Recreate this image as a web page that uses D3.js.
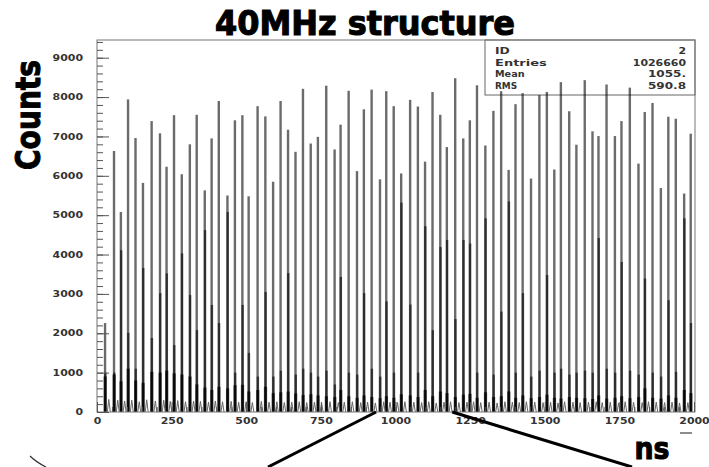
<!DOCTYPE html>
<html>
<head>
<meta charset="utf-8">
<script src="https://cdn.jsdelivr.net/npm/d3@7"></script>
<style>
  body { margin: 0; background: #fff; }
  svg { display: block; }
  .axis text { font-family: "DejaVu Sans", sans-serif; font-weight: bold; font-size: 8px; fill: #333; }
  .axis line { stroke: #555; }
  .stats text { font-family: "DejaVu Sans", sans-serif; font-weight: bold; font-size: 8.5px; fill: #333; }
  .big { font-family: "DejaVu Sans", sans-serif; font-weight: bold; fill: #000; stroke: #000; stroke-width: 1.1px; }
</style>
</head>
<body>
<svg id="chart"></svg>
<script>
// bunch arrival times (ns), read from the peaks
const bunchTime = [27, 57, 80, 104, 129, 154, 183, 211, 233, 258, 284, 311, 334, 361, 384, 408,
  437, 462, 487, 508, 538, 564, 590, 615, 640, 665, 690, 716, 740, 768, 796, 816, 843, 871,
  894, 920, 948, 969, 994, 1019, 1049, 1075, 1099, 1124, 1150, 1172, 1200, 1227, 1249, 1273,
  1301, 1328, 1354, 1379, 1402, 1426, 1454, 1482, 1507, 1532, 1554, 1582, 1606, 1634, 1660,
  1680, 1707, 1735, 1757, 1785, 1814, 1835, 1861, 1889, 1914, 1939, 1967, 1989];

// counts in the highest bin of each bunch
const peakCounts = [2260, 6630, 5080, 7940, 6960, 5820, 7390, 7080, 6230, 7540, 6040, 6800,
  7550, 5630, 6950, 7900, 5500, 7410, 7540, 5480, 7770, 7510, 5850, 7900, 7170, 6610, 8210,
  6820, 6990, 8290, 6670, 7300, 8160, 6120, 7690, 8190, 5910, 8150, 7770, 6060, 7930, 7760,
  6360, 8130, 7550, 6730, 8480, 6950, 7410, 8300, 6770, 7650, 8150, 6150, 7820, 8100, 5930,
  8050, 8130, 6160, 8380, 7640, 6790, 8430, 7130, 7010, 8320, 7010, 7390, 8240, 6310, 7620,
  7850, 5690, 7500, 7450, 5550, 7070];

// counts in the neighbouring bin
const secondCounts = [1000, 1000, 4110, 2010, 1100, 3660, 1880, 3020, 3520, 1700, 4030, 2970,
  2080, 4620, 2720, 2260, 5080, 1000, 2720, 1500, 900, 3050, 900, 1050, 3530, 950, 1100,
  1000, 900, 1050, 700, 3430, 1000, 950, 3020, 1100, 900, 2810, 1000, 5320, 2730, 1000,
  4720, 2080, 4190, 4370, 2360, 4370, 4280, 1000, 4920, 950, 2550, 5350, 1000, 3020, 900,
  1050, 3480, 1000, 1100, 950, 1000, 1050, 1000, 4420, 1100, 1000, 3810, 1050, 950, 3390,
  1000, 900, 2840, 1020, 4920, 2260];

// shoulder bins on either side of each bunch
const shoulderCounts = [900, 950, 780, 1100, 800, 740, 1020, 1000, 1050, 980, 950, 900,
  700, 620, 560, 640, 600, 680, 690, 520, 560, 640, 480, 500, 520, 470, 430, 450, 420, 400,
  380, 560, 400, 360, 420, 380, 350, 400, 360, 450, 420, 380, 560, 400, 520, 480, 380, 440,
  460, 360, 500, 380, 400, 520, 360, 420, 350, 380, 440, 360, 340, 380, 360, 350, 330, 420,
  340, 360, 400, 350, 380, 600, 360, 340, 420, 360, 560, 480];

// small bump half way to the next bunch
const gapBump = [320, 300, 280, 300, 260, 310, 280, 300, 270, 290, 260, 280, 270, 250, 280,
  260, 270, 250, 260, 240, 270, 250, 260, 240, 250, 260, 240, 250, 230, 260, 240, 250, 260,
  240, 250, 230, 260, 250, 240, 260, 250, 240, 260, 230, 250, 260, 240, 250, 260, 240, 250,
  230, 260, 250, 240, 260, 250, 240, 250, 230, 260, 250, 240, 250, 260, 240, 250, 230, 260,
  250, 240, 260, 250, 240, 250, 230, 240, 0];

const yTicks = [0, 1000, 2000, 3000, 4000, 5000, 6000, 7000, 8000, 9000];
const xTicks = [0, 250, 500, 750, 1000, 1250, 1500, 1750, 2000];
const statsRows = [['ID', '2'], ['Entries', '1026660'], ['Mean', '1055.'], ['RMS', '590.8']];
// where the two zoom lines leave the time axis (ns)
const zoomFrom = [935, 1190];

const width = 709, height = 467;
const frame = { left: 97, right: 695, top: 40, bottom: 412 };

const svg = d3.select('#chart')
  .attr('width', width)
  .attr('height', height);

const x = d3.scaleLinear().domain([0, 2000]).range([frame.left, 694]);
const y = d3.scaleLinear().domain([0, 9450]).range([frame.bottom, frame.top]);

// stats box (sits under the bars)
const stats = svg.append('g').attr('class', 'stats');
stats.append('rect')
  .attr('x', 485).attr('y', frame.top)
  .attr('width', frame.right - 485).attr('height', 55)
  .attr('fill', '#fff').attr('stroke', '#666');
statsRows.forEach((row, i) => {
  const ty = frame.top + 14 + i * 11.5;
  stats.append('text').attr('x', 495).attr('y', ty).text(row[0])
    .attr('textLength', row[0].length * 7.4).attr('lengthAdjust', 'spacingAndGlyphs');
  stats.append('text').attr('x', 686).attr('y', ty).attr('text-anchor', 'end').text(row[1])
    .attr('textLength', row[1].length * 7.6).attr('lengthAdjust', 'spacingAndGlyphs');
});

// one record per histogram bin that is drawn
const bins = [];
bunchTime.forEach((t, i) => {
  bins.push({ t: t - 1, v: shoulderCounts[i] });
  bins.push({ t: t + 2, v: shoulderCounts[i] });
  bins.push({ t: t + 1, v: secondCounts[i] });
  bins.push({ t: t, v: peakCounts[i] });
});

const bars = svg.append('g');
bars.selectAll('rect')
  .data(bins)
  .join('rect')
  .attr('x', (d) => x(d.t) - 1.2)
  .attr('width', 2.4)
  .attr('y', (d) => y(d.v))
  .attr('height', (d) => y(0) - y(d.v))
  .attr('fill', '#000')
  .attr('fill-opacity', 0.58);

// little tents between the bunches
bars.selectAll('path')
  .data(bunchTime.map((t, i) => ({ t: t + 12.5, v: gapBump[i] })).filter((d) => d.v > 0))
  .join('path')
  .attr('d', (d) => `M${x(d.t - 5)},${y(0)}L${x(d.t)},${y(d.v)}L${x(d.t + 5)},${y(0)}`)
  .attr('fill', 'none')
  .attr('stroke', '#666')
  .attr('stroke-width', 1);

// frame
svg.append('rect')
  .attr('x', frame.left).attr('y', frame.top)
  .attr('width', frame.right - frame.left).attr('height', frame.bottom - frame.top)
  .attr('fill', 'none').attr('stroke', '#777');

// y axis, ticks pointing into the frame
const yAxisG = svg.append('g').attr('class', 'axis')
  .attr('transform', `translate(${frame.left},0)`)
  .call(d3.axisLeft(y).tickValues(yTicks).tickFormat(d3.format('d'))
    .tickSizeInner(-12).tickSizeOuter(0).tickPadding(14));
svg.append('g').attr('class', 'axis')
  .attr('transform', `translate(${frame.left},0)`)
  .call(d3.axisLeft(y).tickValues(d3.range(0, 9450, 200)).tickSize(-6).tickFormat(''));

// x axis
const xAxisG = svg.append('g').attr('class', 'axis')
  .attr('transform', `translate(0,${frame.bottom})`)
  .call(d3.axisBottom(x).tickValues(xTicks).tickFormat(d3.format('d'))
    .tickSizeInner(-10).tickSizeOuter(0).tickPadding(6));
svg.append('g').attr('class', 'axis')
  .attr('transform', `translate(0,${frame.bottom})`)
  .call(d3.axisBottom(x).tickValues(d3.range(0, 2001, 50)).tickSize(-5).tickFormat(''));

svg.selectAll('.axis .domain').remove();
[yAxisG, xAxisG].forEach((g) => {
  g.selectAll('text')
    .attr('textLength', function () { return this.textContent.length * 7.6; })
    .attr('lengthAdjust', 'spacingAndGlyphs');
});

// titles
svg.append('text').attr('class', 'big')
  .attr('x', 365).attr('y', 35)
  .attr('text-anchor', 'middle')
  .attr('font-size', 33)
  .attr('textLength', 300).attr('lengthAdjust', 'spacingAndGlyphs')
  .text('40MHz structure');

svg.append('text').attr('class', 'big')
  .attr('transform', 'translate(40,115) rotate(-90)')
  .attr('text-anchor', 'middle')
  .attr('font-size', 34)
  .attr('textLength', 110).attr('lengthAdjust', 'spacingAndGlyphs')
  .text('Counts');

svg.append('text').attr('class', 'big')
  .attr('x', 652).attr('y', 459)
  .attr('text-anchor', 'middle')
  .attr('font-size', 30)
  .attr('textLength', 35).attr('lengthAdjust', 'spacingAndGlyphs')
  .text('ns');

svg.append('line')
  .attr('x1', 680).attr('x2', 692).attr('y1', 433).attr('y2', 433)
  .attr('stroke', '#666').attr('stroke-width', 1.5);

// zoom lines leading out of the plot
const zoomEnds = [268, 632];
zoomFrom.forEach((t, i) => {
  svg.append('line')
    .attr('x1', x(t)).attr('y1', y(0))
    .attr('x2', zoomEnds[i]).attr('y2', height)
    .attr('stroke', '#000').attr('stroke-width', 3);
});
svg.append('path')
  .attr('d', 'M30,456 Q36,462 46,467')
  .attr('fill', 'none').attr('stroke', '#333').attr('stroke-width', 1.2);
</script>
</body>
</html>
